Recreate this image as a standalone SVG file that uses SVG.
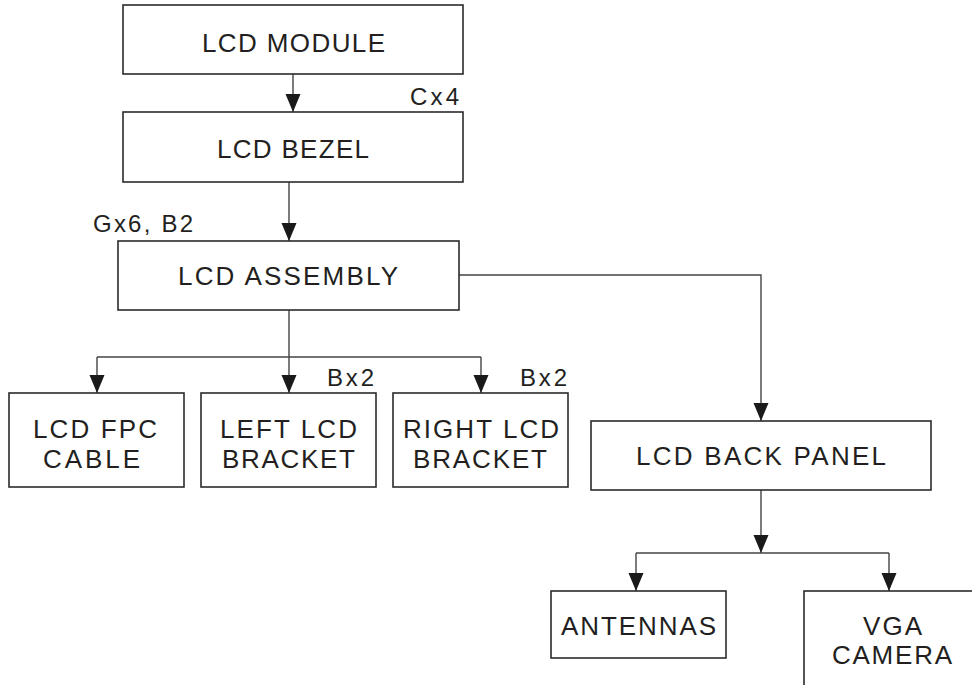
<svg xmlns="http://www.w3.org/2000/svg" width="972" height="685" viewBox="0 0 972 685">
<style>
.box{fill:#fff;stroke:#2b2b2b;stroke-width:1.6}
.t{font-family:"Liberation Sans",Arial,sans-serif;font-size:26px;fill:#231f20;text-anchor:middle}
.q{font-family:"Liberation Sans",Arial,sans-serif;font-size:24px;fill:#231f20}
.c{fill:none;stroke:#444;stroke-width:1.4}
</style>
<defs>
<marker id="ah" markerUnits="userSpaceOnUse" markerWidth="18" markerHeight="16" refX="18" refY="7.5" orient="auto">
<path d="M0,0 L18,7.5 L0,15 Z" fill="#1a1a1a"/>
</marker>
</defs>
<rect width="972" height="685" fill="#fff"/>
<g id="connectors">
<path class="c" d="M293,74 V112" marker-end="url(#ah)"/>
<path class="c" d="M289,182 V241" marker-end="url(#ah)"/>
<path class="c" d="M289,310 V393" marker-end="url(#ah)"/>
<path class="c" d="M97,357 H481"/>
<path class="c" d="M97,357 V393" marker-end="url(#ah)"/>
<path class="c" d="M481,357 V393" marker-end="url(#ah)"/>
<path class="c" d="M459,275 H761 V421" marker-end="url(#ah)"/>
<path class="c" d="M761,490 V553" marker-end="url(#ah)"/>
<path class="c" d="M636,553 H889"/>
<path class="c" d="M636,553 V591" marker-end="url(#ah)"/>
<path class="c" d="M889,553 V591" marker-end="url(#ah)"/>
</g>
<g id="lcd-module">
<rect class="box" x="123" y="5" width="340" height="69"/>
<text class="t" x="293.5" y="52" textLength="183" lengthAdjust="spacing">LCD MODULE</text>
</g>
<g id="lcd-bezel">
<rect class="box" x="123" y="112" width="340" height="70"/>
<text class="t" x="293" y="158" textLength="152" lengthAdjust="spacing">LCD BEZEL</text>
<text class="q" x="410" y="105" textLength="49" lengthAdjust="spacing">Cx4</text>
</g>
<g id="lcd-assembly">
<rect class="box" x="118" y="241" width="341" height="69"/>
<text class="t" x="288" y="285" textLength="220" lengthAdjust="spacing">LCD  ASSEMBLY</text>
<text class="q" x="93" y="232" textLength="100" lengthAdjust="spacing">Gx6, B2</text>
</g>
<g id="lcd-fpc-cable">
<rect class="box" x="9" y="393" width="175" height="94"/>
<text class="t" x="95" y="438" textLength="124" lengthAdjust="spacing">LCD FPC</text>
<text class="t" x="91.5" y="468" textLength="97" lengthAdjust="spacing">CABLE</text>
</g>
<g id="left-lcd-bracket">
<rect class="box" x="201" y="393" width="175" height="94"/>
<text class="t" x="288.5" y="438" textLength="137" lengthAdjust="spacing">LEFT LCD</text>
<text class="t" x="288.5" y="468" textLength="133" lengthAdjust="spacing">BRACKET</text>
<text class="q" x="327" y="386" textLength="47" lengthAdjust="spacing">Bx2</text>
</g>
<g id="right-lcd-bracket">
<rect class="box" x="393" y="393" width="175" height="94"/>
<text class="t" x="481" y="438" textLength="156" lengthAdjust="spacing">RIGHT LCD</text>
<text class="t" x="480" y="468" textLength="134" lengthAdjust="spacing">BRACKET</text>
<text class="q" x="520" y="386" textLength="47" lengthAdjust="spacing">Bx2</text>
</g>
<g id="lcd-back-panel">
<rect class="box" x="591" y="421" width="340" height="69"/>
<text class="t" x="761" y="465" textLength="250" lengthAdjust="spacing">LCD  BACK  PANEL</text>
</g>
<g id="antennas">
<rect class="box" x="551" y="591" width="175" height="67"/>
<text class="t" x="638.5" y="635" textLength="155" lengthAdjust="spacing">ANTENNAS</text>
</g>
<g id="vga-camera">
<rect class="box" x="804" y="591" width="200" height="120"/>
<text class="t" x="892.5" y="635" textLength="59" lengthAdjust="spacing">VGA</text>
<text class="t" x="892" y="664" textLength="120" lengthAdjust="spacing">CAMERA</text>
</g>
</svg>
